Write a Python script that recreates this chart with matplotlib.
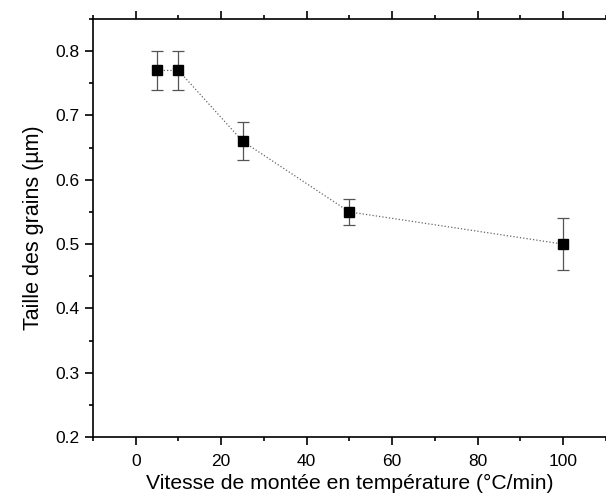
import matplotlib
matplotlib.use("Agg")
import matplotlib.pyplot as plt
from matplotlib.ticker import MultipleLocator

rates = [5, 10, 25, 50, 100]
grain_size = [0.77, 0.77, 0.66, 0.55, 0.50]
errors = [0.03, 0.03, 0.03, 0.02, 0.04]

plt.rcParams['font.family'] = ['Liberation Sans', 'DejaVu Sans']

fig = plt.figure(figsize=(6.06, 4.97), dpi=100)
ax = fig.add_axes([0.1535, 0.1207, 0.846, 0.8411])

ax.plot(rates, grain_size, linestyle=':', color='#666666', linewidth=0.9, zorder=1)
ax.errorbar(rates, grain_size, yerr=errors, fmt='none', ecolor='#555555',
            elinewidth=0.9, capsize=4, capthick=0.9, zorder=2)
ax.plot(rates, grain_size, linestyle='none', marker='s', markersize=7,
        color='black', zorder=3)

ax.set_xlim(-10, 110)
ax.set_ylim(0.2, 0.85)
ax.xaxis.set_major_locator(MultipleLocator(20))
ax.xaxis.set_minor_locator(MultipleLocator(10))
ax.yaxis.set_minor_locator(MultipleLocator(0.05))
ax.set_yticks([0.2, 0.3, 0.4, 0.5, 0.6, 0.7, 0.8])

ax.tick_params(which='both', direction='out', top=True, right=False,
               labeltop=False, width=1.2, labelsize=12.5, colors='black')
ax.tick_params(which='major', length=6)
ax.tick_params(which='minor', length=3)
ax.tick_params(axis='x', which='major', pad=6)
ax.spines['right'].set_visible(False)
for s in ['left', 'bottom', 'top']:
    ax.spines[s].set_linewidth(1.2)

ax.set_xlabel('Vitesse de montée en température (°C/min)', fontsize=15.2, labelpad=4)
ax.set_ylabel('Taille des grains (µm)', fontsize=15.5, labelpad=8)

fig.savefig('out.png', dpi=100)
